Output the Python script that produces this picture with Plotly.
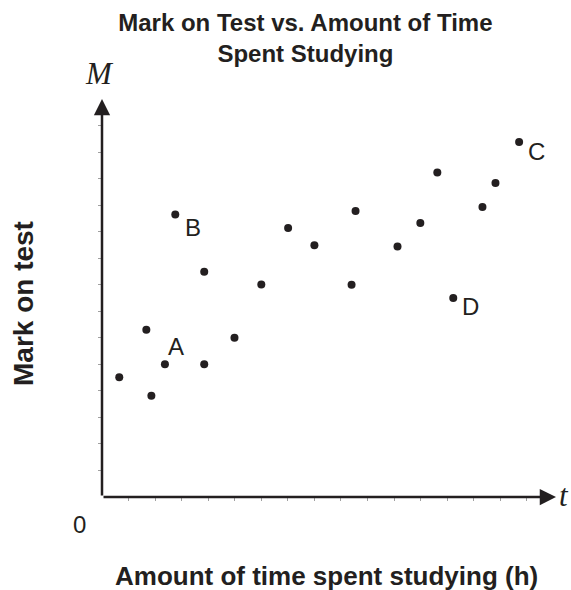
import plotly.graph_objects as go

# ---- data (grid units) ----
time_h = [0.65, 1.67, 1.86, 2.37, 2.76, 3.85, 3.85, 4.99, 6.00, 7.01,
          8.00, 9.40, 9.55, 11.13, 11.99, 12.63, 13.23, 14.33, 14.82, 15.71]
mark = [4.51, 6.30, 3.82, 5.00, 10.65, 8.49, 5.00, 6.00, 8.01, 10.14,
        9.49, 8.00, 10.78, 9.44, 10.33, 12.23, 7.50, 10.93, 11.83, 13.38]
point_labels = ["A", "B", "C", "D"]
labelled_index = [3, 4, 19, 16]
x_ticks = list(range(1, 17))
y_ticks = list(range(1, 15))

INK = "#231f20"
SANS = "Liberation Sans, Arial, Helvetica, sans-serif"
SERIF = "Liberation Serif, Times New Roman, serif"
X_MAX, Y_MAX = 17.1, 15.0

fig = go.Figure()
fig.add_trace(go.Scatter(
    x=time_h, y=mark, mode="markers",
    marker=dict(size=8, color=INK), hoverinfo="x+y", showlegend=False))

# label offsets (pixels) for A, B, C, D
label_shift = {"A": (11, 18), "B": (18, -13), "C": (17, -10), "D": (17, -8)}
annotations = []
for lab, idx in zip(point_labels, labelled_index):
    dx, dy = label_shift[lab]
    annotations.append(dict(
        x=time_h[idx], y=mark[idx], xref="x", yref="y", text=lab,
        showarrow=False, xshift=dx, yshift=dy,
        font=dict(family=SANS, size=24, color=INK)))

# axes with arrowheads
annotations.append(dict(x=X_MAX, y=0, ax=0, ay=0, xref="x", yref="y",
                        axref="x", ayref="y", text="", showarrow=True,
                        arrowhead=2, arrowsize=1.3, arrowwidth=2.5,
                        arrowcolor=INK, standoff=0))
annotations.append(dict(x=0, y=Y_MAX, ax=0, ay=0, xref="x", yref="y",
                        axref="x", ayref="y", text="", showarrow=True,
                        arrowhead=2, arrowsize=1.3, arrowwidth=2.5,
                        arrowcolor=INK, standoff=0))

# axis letters and origin
annotations += [
    dict(x=-0.006, y=1.063, xref="paper", yref="paper", text="<i>M</i>",
         showarrow=False, xanchor="center", yanchor="middle",
         font=dict(family=SERIF, size=31, color=INK)),
    dict(x=1.018, y=0.005, xref="paper", yref="paper", text="<i>t</i>",
         showarrow=False, xanchor="center", yanchor="middle",
         font=dict(family=SERIF, size=31, color=INK)),
    dict(x=-0.05, y=-0.068, xref="paper", yref="paper", text="0",
         showarrow=False, xanchor="center", yanchor="middle",
         font=dict(family=SANS, size=24, color=INK)),
    dict(x=0.494, y=-0.1985, xref="paper", yref="paper",
         text="<b>Amount of time spent studying (h)</b>",
         showarrow=False, xanchor="center", yanchor="middle",
         font=dict(family=SANS, size=26, color=INK)),
    dict(x=-0.1744, y=0.487, xref="paper", yref="paper",
         text="<b>Mark on test</b>", textangle=-90,
         showarrow=False, xanchor="center", yanchor="middle",
         font=dict(family=SANS, size=28, color=INK)),
]

fig.update_layout(
    width=571, height=590,
    margin=dict(l=102, r=15, t=99, b=93),
    paper_bgcolor="white", plot_bgcolor="white",
    title=dict(text="<b>Mark on Test vs. Amount of Time<br>Spent Studying</b>",
               x=0.448, xref="paper", xanchor="center",
               y=1 - 31 / 590, yref="container", yanchor="top",
               font=dict(family=SANS, size=24, color=INK)),
    annotations=annotations,
    showlegend=False,
)
fig.update_xaxes(range=[0, X_MAX], showgrid=False, zeroline=False,
                 showline=False, ticks="outside", ticklen=3, tickwidth=1,
                 tickcolor="#a0a0a0", tickvals=x_ticks, showticklabels=False)
fig.update_yaxes(range=[0, Y_MAX], showgrid=False, zeroline=False,
                 showline=False, ticks="outside", ticklen=3, tickwidth=1,
                 tickcolor="#a0a0a0", tickvals=y_ticks, showticklabels=False)

fig.write_html("out.html",
               config={"displayModeBar": False},
               post_script="document.body.style.margin='0px';"
                           "document.body.style.overflow='hidden';")
